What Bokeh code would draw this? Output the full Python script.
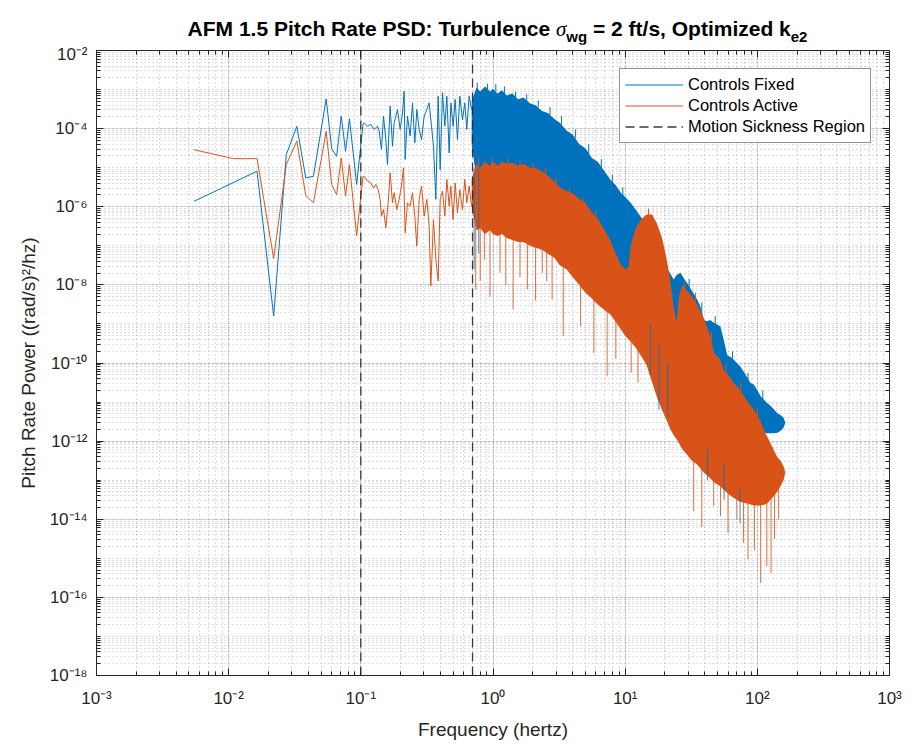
import json
import numpy as np
from bokeh.plotting import figure
from bokeh.layouts import column
from bokeh.models import (FixedTicker, CustomJSTickFormatter, LogAxis, Div,
                          Legend, LegendItem, Range1d)
from bokeh.embed import file_html
from bokeh.resources import INLINE

# ---------------- data (PSD values as log10) ----------------
fixed_line_freq = [0.00547, 0.0164, 0.0219, 0.0273, 0.0328, 0.0383, 0.0438, 0.0547, 0.0602,
                   0.0656, 0.0711, 0.0766, 0.0820, 0.0930, 0.1039,
                   0.1060, 0.1123, 0.1190, 0.1261, 0.1337, 0.1376, 0.1433, 0.1484, 0.1546,
                   0.1591, 0.1667, 0.1736, 0.1787, 0.1894, 0.1984, 0.2066, 0.2127, 0.2165,
                   0.2254, 0.2361, 0.2460, 0.2562, 0.2652, 0.2763, 0.2878, 0.3014, 0.3157,
                   0.3288, 0.3425, 0.3546, 0.3694, 0.3848, 0.3983, 0.4149, 0.4321, 0.4474,
                   0.4661, 0.4798, 0.4996, 0.5173, 0.5386, 0.5610, 0.5876, 0.6119, 0.6336,
                   0.6599, 0.6872]
fixed_line_log10psd = [-5.86, -5.09, -8.80, -4.66, -3.94, -5.26, -5.22, -3.24, -4.52,
                       -4.71, -3.68, -4.58, -3.75, -5.43, -3.89,
                       -3.85, -3.94, -3.89, -4.02, -3.94, -4.06, -4.53, -3.68, -4.28,
                       -4.92, -3.42, -4.45, -3.85, -3.51, -4.02, -3.60, -3.04, -4.79,
                       -3.68, -4.19, -3.34, -4.36, -3.51, -4.02, -4.28, -3.68, -3.51,
                       -3.34, -3.94, -4.45, -5.81, -3.17, -5.05, -3.08, -3.94, -3.17,
                       -4.62, -3.34, -3.94, -3.25, -4.28, -3.17, -3.77, -3.34, -4.02,
                       -3.17, -3.51]

active_line_freq = [0.00547, 0.01094, 0.0164, 0.0219, 0.0273, 0.0328, 0.0383, 0.0438, 0.0547,
                    0.0602, 0.0656, 0.0711, 0.0766, 0.0820, 0.0930, 0.1039,
                    0.1060, 0.1123, 0.1190, 0.1247, 0.1299, 0.1352, 0.1400, 0.1433, 0.1484,
                    0.1546, 0.1610, 0.1667, 0.1736, 0.1787, 0.1872, 0.1950, 0.2030, 0.2102,
                    0.2165, 0.2254, 0.2361, 0.2460, 0.2562, 0.2652, 0.2763, 0.2878, 0.3014,
                    0.3157, 0.3288, 0.3384, 0.3546, 0.3694, 0.3848, 0.3983, 0.4149, 0.4321,
                    0.4474, 0.4661, 0.4798, 0.4996, 0.5173, 0.5386, 0.5610, 0.5876, 0.6119,
                    0.6336, 0.6599, 0.6872]
active_line_log10psd = [-4.54, -4.77, -4.77, -7.33, -4.92, -4.32, -5.71, -5.90, -4.07,
                        -5.43, -5.69, -4.75, -5.73, -4.92, -6.74, -5.22,
                        -5.22, -5.34, -5.39, -5.52, -5.43, -5.56, -5.81, -6.24, -6.07,
                        -6.54, -5.90, -5.13, -5.90, -5.64, -6.07, -5.81, -5.47, -5.00,
                        -6.67, -5.90, -5.98, -5.64, -6.24, -7.01, -5.81, -5.47, -6.24,
                        -5.81, -6.50, -8.03, -6.33, -7.35, -7.90, -5.81, -5.60, -6.24,
                        -5.30, -5.98, -5.47, -6.33, -5.39, -6.15, -5.56, -6.07, -5.30,
                        -5.90, -5.47, -5.98]

# dense high-frequency part: upper / lower edge of the solid band
fixed_band_freq = [0.69, 0.75, 0.8, 0.87, 0.95, 1.0, 1.08, 1.17, 1.27, 1.4, 1.55, 1.7, 1.9, 2.1,
                   2.35, 2.6, 2.9, 3.2, 3.6, 4.0, 4.5, 5.0, 5.6, 6.2, 7.0, 7.7, 8.5, 9.3, 10,
                   11, 12, 13.4, 15, 17, 19, 21, 23.3, 24.5, 26.2, 28, 29.4, 32, 35, 37, 39.3,
                   41.4, 44, 46.8, 52.5, 55.6, 59.3, 63, 66, 70, 74, 80, 88.6, 94, 100, 106,
                   118, 127, 141, 152, 158, 163]
fixed_band_upper_log10 = [-3.3, -2.95, -3.05, -2.92, -3.05, -2.98, -3.1, -3.02, -3.15, -3.1,
                          -3.25, -3.2, -3.35, -3.4, -3.55, -3.6, -3.75, -3.85, -4.05, -4.15,
                          -4.4, -4.5, -4.75, -4.85, -5.1, -5.3, -5.45, -5.65, -5.75, -5.9,
                          -6.07, -6.3, -6.6, -6.95, -7.3, -7.6, -7.86, -7.75, -7.69, -7.85,
                          -7.95, -8.15, -8.37, -8.55, -8.9, -8.93, -8.9, -8.97, -9.06, -9.4,
                          -9.8, -9.85, -9.91, -10.0, -10.08, -10.25, -10.51, -10.55, -10.7,
                          -10.85, -11.02, -11.11, -11.28, -11.35, -11.4, -11.53]
fixed_band_lower_log10 = [-4.4, -5.3, -5.4, -5.3, -5.4, -5.3, -5.4, -5.3, -5.35, -5.3, -5.4,
                          -5.35, -5.45, -5.45, -5.55, -5.65, -5.8, -5.95, -6.05, -6.1, -6.25,
                          -6.35, -6.6, -6.75, -7.05, -7.3, -7.65, -7.95, -8.05, -7.9, -7.5,
                          -7.2, -7.2, -7.3, -7.6, -8.2, -9.1, -9.4, -9.0, -8.8, -8.9, -9.0,
                          -9.2, -9.4, -9.6, -9.9, -10.1, -10.4, -10.6, -10.8, -11.0, -11.1,
                          -11.2, -11.3, -11.4, -11.5, -11.6, -11.65, -11.7, -11.75, -11.8,
                          -11.8, -11.79, -11.72, -11.65, -11.53]

active_band_freq = [0.69, 0.75, 0.8, 0.87, 0.95, 1.0, 1.08, 1.17, 1.27, 1.4, 1.55, 1.7, 1.9,
                    2.1, 2.35, 2.6, 2.9, 3.2, 3.6, 4.0, 4.5, 5.0, 5.6, 6.2, 7.0, 7.7, 8.5, 9.3,
                    10, 10.6, 11, 12, 13.4, 14.5, 16, 17.5, 19, 20.5, 22, 23.3, 24.5, 25.5, 27,
                    29.4, 32, 35, 39.3, 44, 47, 52, 56, 60, 66, 74, 85, 94, 106, 118, 130, 141,
                    150, 158, 163]
active_band_upper_log10 = [-5.3, -4.9, -5.0, -4.85, -4.95, -4.85, -4.95, -4.85, -4.9, -4.88,
                           -4.95, -4.9, -5.0, -5.0, -5.1, -5.2, -5.35, -5.5, -5.6, -5.65,
                           -5.8, -5.9, -6.15, -6.3, -6.6, -6.85, -7.2, -7.5, -7.6, -7.55,
                           -7.0, -6.55, -6.3, -6.2, -6.2, -6.45, -6.8, -7.3, -7.9, -8.6,
                           -8.95, -8.3, -8.0, -8.15, -8.3, -8.5, -8.85, -9.3, -9.74, -9.9,
                           -10.2, -10.3, -10.5, -10.7, -11.0, -11.19, -11.5, -11.87, -12.15,
                           -12.4, -12.5, -12.65, -12.8]
active_band_lower_log10 = [-6.0, -6.6, -6.55, -6.7, -6.6, -6.7, -6.75, -6.7, -6.8, -6.85,
                           -6.9, -6.9, -7.0, -7.05, -7.1, -7.2, -7.3, -7.5, -7.6, -7.8,
                           -8.0, -8.2, -8.35, -8.5, -8.65, -8.75, -8.95, -9.15, -9.3, -9.4,
                           -9.45, -9.6, -9.85, -10.05, -10.5, -10.9, -11.2, -11.45, -11.7,
                           -11.85, -11.95, -12.05, -12.2, -12.35, -12.5, -12.6, -12.8, -12.95,
                           -13.05, -13.15, -13.25, -13.35, -13.45, -13.55, -13.6, -13.65,
                           -13.65, -13.6, -13.45, -13.3, -13.15, -13.0, -12.8]

# individual spikes sticking out of the dense bands (base -> tip)
active_spike_freq = [0.74, 0.8, 0.86, 0.95, 1.13, 1.25, 1.42, 1.6, 1.82, 2.1, 2.36, 2.55, 2.8,
                     3.4, 4.6, 5.8, 7.3, 8.5, 11.1, 12.5, 33, 38, 46.8, 52.6, 60, 70, 78.5,
                     85, 95, 106, 118, 127, 135, 145]
active_spike_base_log10 = [-6.3, -6.4, -6.4, -6.4, -6.5, -6.5, -6.6, -6.7, -6.7, -6.8, -6.8,
                           -6.9, -7.0, -7.2, -7.7, -8.1, -8.4, -8.7, -9.2, -9.4, -12.2, -12.4,
                           -12.7, -12.9, -13.0, -13.2, -13.3, -13.3, -13.3, -13.3, -13.3,
                           -13.2, -13.1, -13.0]
active_spike_tip_log10 = [-8.12, -7.9, -7.35, -8.3, -7.69, -8.0, -8.63, -7.8, -8.12, -8.4,
                          -7.69, -7.9, -8.37, -9.31, -9.06, -9.74, -10.34, -9.9, -10.25,
                          -10.5, -13.8, -14.2, -13.67, -13.92, -14.35, -14.0, -14.6, -15.03,
                          -14.8, -15.63, -15.2, -15.37, -14.5, -14.0]
active_up_freq = [0.78, 0.98, 1.3, 1.6, 2.0, 2.5, 3.0, 3.8, 4.8, 6.0, 15.0, 28, 34, 45, 58,
                  75, 100]
active_up_base_log10 = [-4.95, -4.9, -4.95, -4.95, -5.05, -5.2, -5.45, -5.7, -5.95, -6.3,
                        -6.25, -8.1, -8.45, -9.45, -10.3, -10.75, -11.4]
active_up_tip_log10 = [-4.75, -4.72, -4.75, -4.8, -4.88, -5.0, -5.25, -5.5, -5.75, -6.1,
                       -6.05, -7.9, -8.2, -9.2, -10.0, -10.5, -11.15]

fixed_spike_freq = [0.72, 0.78, 15.5, 18, 21, 42, 56, 74]
fixed_spike_base_log10 = [-5.0, -5.0, -9.0, -9.5, -10.0, -12.2, -12.6, -13.2]
fixed_spike_tip_log10 = [-7.6, -7.2, -10.3, -11.2, -11.4, -13.0, -13.5, -14.1]
fixed_up_freq = [0.76, 0.91, 1.05, 1.22, 1.48, 1.8, 2.2, 2.7, 3.3, 4.2, 5.3, 6.6, 8.0, 9.6,
                 30.5, 38, 48, 65, 85, 110]
fixed_up_base_log10 = [-3.0, -3.0, -3.05, -3.1, -3.25, -3.3, -3.45, -3.65, -3.9, -4.25,
                       -4.65, -5.0, -5.4, -5.75, -8.1, -8.8, -9.1, -10.0, -10.5, -10.95]
fixed_up_tip_log10 = [-2.82, -2.85, -2.86, -2.92, -3.05, -3.12, -3.28, -3.45, -3.68, -4.02,
                      -4.4, -4.78, -5.18, -5.5, -7.85, -8.45, -8.8, -9.7, -10.25, -10.7]

motion_sickness_bounds = [0.1, 0.7]
series_names = ["Controls Fixed", "Controls Active", "Motion Sickness Region"]

x_major_ticks = [1e-3, 1e-2, 1e-1, 1e0, 1e1, 1e2, 1e3]
x_tick_labels = ["10⁻³", "10⁻²", "10⁻¹", "10⁰", "10¹", "10²", "10³"]
y_major_ticks = [1e-18, 1e-16, 1e-14, 1e-12, 1e-10, 1e-8, 1e-6, 1e-4, 1e-2]
y_tick_labels = ["10⁻¹⁸", "10⁻¹⁶", "10⁻¹⁴", "10⁻¹²", "10⁻¹⁰", "10⁻⁸", "10⁻⁶", "10⁻⁴", "10⁻²"]

x_label = "Frequency (hertz)"
y_label = "Pitch Rate Power ((rad/s)²/hz)"

# ---------------- styling ----------------
BLUE = "#0072BD"
ORANGE = "#D95319"
AX = "#262626"
FONT = "Liberation Sans"
FW, FH = 793, 625
LEFT, RIGHT = 96, 18
DIV_H = 34
TOP = 6
BOTTOM = 67

def p10(a):
    return (10.0 ** np.asarray(a, dtype=float)).tolist()

p = figure(x_axis_type="log", y_axis_type="log",
           x_range=Range1d(x_major_ticks[0], x_major_ticks[-1]),
           y_range=Range1d(y_major_ticks[0], y_major_ticks[-1]),
           frame_width=FW, frame_height=FH,
           min_border_left=LEFT, min_border_right=RIGHT, min_border_top=TOP,
           min_border_bottom=BOTTOM,
           output_backend="svg", toolbar_location=None,
           background_fill_color="white", border_fill_color="white")
p.outline_line_color = AX
p.outline_line_width = 1

def minor_list(lo_exp, hi_exp):
    out = []
    for e in range(lo_exp, hi_exp):
        for m in range(1, 10):
            out.append(m * 10.0 ** e)
    return out

x_ticker = FixedTicker(ticks=x_major_ticks, minor_ticks=minor_list(-3, 3))
y_ticker = FixedTicker(ticks=y_major_ticks, minor_ticks=minor_list(-18, -2))

def label_formatter(ticks, labels):
    mapping = {str(int(round(np.log10(t)))): lab for t, lab in zip(ticks, labels)}
    return CustomJSTickFormatter(code="const L = %s; const k = String(Math.round(Math.log10(tick))); return (k in L) ? L[k] : '';" % json.dumps(mapping))

empty_formatter = CustomJSTickFormatter(code="return '';")

def style_axis(ax, labelled):
    ax.axis_line_color = AX
    ax.axis_line_width = 1
    ax.major_tick_line_color = AX
    ax.minor_tick_line_color = AX
    ax.major_tick_in = 7
    ax.major_tick_out = 0
    ax.minor_tick_in = 4
    ax.minor_tick_out = 0
    ax.major_label_text_font = FONT
    ax.major_label_text_color = AX
    if labelled:
        ax.major_label_text_font_size = "17px"
        ax.axis_label_text_font = FONT
        ax.axis_label_text_font_size = "19px"
        ax.axis_label_text_font_style = "normal"
        ax.axis_label_text_color = AX
    else:
        ax.major_label_text_font_size = "1px"
        ax.major_label_standoff = 0

xa = p.xaxis[0]
xa.ticker = x_ticker
xa.formatter = label_formatter(x_major_ticks, x_tick_labels)
xa.axis_label = x_label
style_axis(xa, True)
xa.major_label_standoff = 13
xa.axis_label_standoff = 8

ya = p.yaxis[0]
ya.ticker = y_ticker
ya.formatter = label_formatter(y_major_ticks, y_tick_labels)
ya.axis_label = y_label
style_axis(ya, True)
ya.major_label_standoff = 9
ya.axis_label_standoff = 8

top_ax = LogAxis(ticker=x_ticker, formatter=empty_formatter)
style_axis(top_ax, False)
p.add_layout(top_ax, "above")
right_ax = LogAxis(ticker=y_ticker, formatter=empty_formatter)
style_axis(right_ax, False)
p.add_layout(right_ax, "right")

for g, tk in ((p.xgrid[0], x_ticker), (p.ygrid[0], y_ticker)):
    g.ticker = tk
    g.grid_line_color = AX
    g.grid_line_alpha = 0.15
    g.minor_grid_line_color = AX
    g.minor_grid_line_alpha = 0.3
    g.minor_grid_line_dash = "1 3"

# ---------------- data glyphs ----------------
fixed_line = p.line(fixed_line_freq, p10(fixed_line_log10psd), line_color=BLUE,
                    line_width=1, line_join="round")
p.varea(x=fixed_band_freq, y1=p10(fixed_band_lower_log10), y2=p10(fixed_band_upper_log10),
        fill_color=BLUE, fill_alpha=1)
p.segment(x0=fixed_up_freq, y0=p10(fixed_up_base_log10),
          x1=fixed_up_freq, y1=p10(fixed_up_tip_log10),
          line_color=BLUE, line_width=1)

active_line = p.line(active_line_freq, p10(active_line_log10psd), line_color=ORANGE,
                     line_width=1, line_join="round")
p.varea(x=active_band_freq, y1=p10(active_band_lower_log10), y2=p10(active_band_upper_log10),
        fill_color=ORANGE, fill_alpha=1)
p.segment(x0=active_spike_freq, y0=p10(active_spike_base_log10),
          x1=active_spike_freq, y1=p10(active_spike_tip_log10),
          line_color=ORANGE, line_width=1, line_alpha=0.85)
p.segment(x0=active_up_freq, y0=p10(active_up_base_log10),
          x1=active_up_freq, y1=p10(active_up_tip_log10),
          line_color=ORANGE, line_width=1)
p.segment(x0=fixed_spike_freq, y0=p10(fixed_spike_base_log10),
          x1=fixed_spike_freq, y1=p10(fixed_spike_tip_log10),
          line_color=BLUE, line_width=1, line_alpha=0.8)

# motion-sickness region boundaries: full-height dashed lines
n_b = len(motion_sickness_bounds)
dash_lines = p.segment(x0=motion_sickness_bounds, x1=motion_sickness_bounds,
                       y0=[y_major_ticks[0]] * n_b, y1=[y_major_ticks[-1]] * n_b,
                       line_color=AX, line_width=1.3, line_dash="9 5", line_alpha=0.9)

legend = Legend(items=[LegendItem(label=series_names[0], renderers=[fixed_line]),
                       LegendItem(label=series_names[1], renderers=[active_line]),
                       LegendItem(label=series_names[2], renderers=[dash_lines])],
                location="top_right")
legend.margin = 18
legend.padding = 5
legend.spacing = 0
legend.glyph_width = 58
legend.glyph_height = 21
legend.label_height = 21
legend.label_standoff = 5
legend.label_text_font = FONT
legend.label_text_font_size = "16.5px"
legend.label_text_color = "black"
legend.border_line_color = AX
legend.border_line_width = 1
legend.background_fill_color = "white"
legend.background_fill_alpha = 1
p.add_layout(legend)

# ---------------- title (TeX-like subscripts) ----------------
title_html = (
    '<div style="width:%dpx; margin-left:%dpx; text-align:center; '
    'font-family:\'Liberation Sans\'; font-weight:bold; font-size:21px; color:black; '
    'line-height:20px; padding-top:14px; white-space:nowrap;">'
    'AFM 1.5 Pitch Rate PSD: Turbulence '
    '<span style="font-family:\'Liberation Serif\'; font-style:italic; font-weight:normal;">σ</span>'
    '<span style="font-size:15px; position:relative; top:6px;">wg</span>'
    ' = 2 ft/s, Optimized k'
    '<span style="font-size:15px; position:relative; top:6px;">e2</span>'
    '</div>'
) % (FW, LEFT)
title_div = Div(text=title_html, width=LEFT + FW + RIGHT, height=DIV_H)

layout = column(title_div, p, spacing=0)
open("out.html", "w").write(file_html(layout, INLINE))
